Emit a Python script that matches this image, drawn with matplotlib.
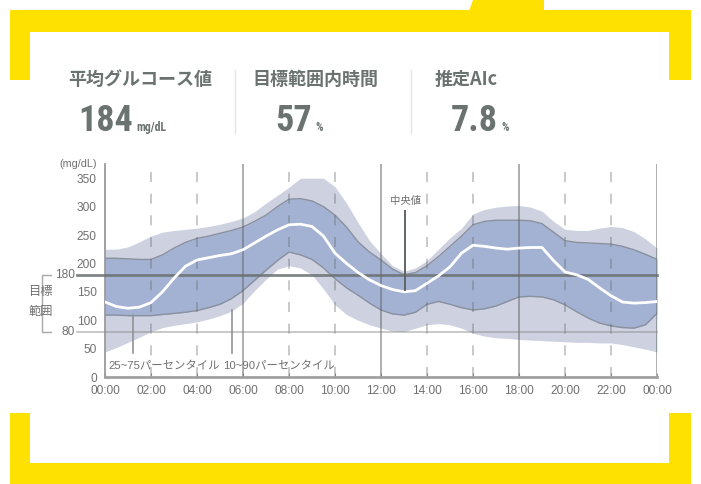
import matplotlib
matplotlib.use("Agg")
import matplotlib.pyplot as plt
from matplotlib import font_manager
from matplotlib.patches import Rectangle, Polygon

plt.rcParams['font.family'] = ['Liberation Sans', 'Noto Sans CJK JP', 'DejaVu Sans']

# half-hour grid, values (mg/dL)
hours = [i * 0.5 for i in range(49)]
p90 = [225, 225, 229, 238, 248, 255, 258, 260, 262, 265, 269, 274, 280, 291, 306, 320,
       334, 350, 350, 350, 335, 306, 272, 240, 217, 196, 186, 192, 205, 225, 245, 262,
       287, 295, 299, 301, 302, 299, 292, 274, 260, 258, 258, 262, 265, 263, 256, 243, 227]
p75 = [209, 209, 208, 207, 207, 215, 227, 237, 244, 248, 253, 258, 264, 274, 285, 300,
       313, 314, 310, 300, 285, 264, 238, 220, 206, 190, 180, 184, 196, 212, 230, 248,
       268, 274, 276, 276, 276, 275, 270, 255, 240, 237, 236, 235, 234, 230, 224, 216, 207]
median = [132, 124, 121, 123, 131, 150, 174, 195, 206, 210, 214, 217, 224, 236, 248, 259,
          268, 269, 265, 248, 218, 200, 184, 171, 161, 154, 150, 152, 165, 178, 194, 218,
          232, 230, 227, 225, 227, 228, 228, 205, 185, 180, 172, 157, 143, 132, 130, 131, 133]
p25 = [109, 109, 108, 108, 108, 110, 112, 114, 117, 122, 128, 138, 152, 170, 188, 205,
       220, 215, 207, 192, 173, 157, 144, 130, 118, 111, 109, 114, 128, 133, 128, 122,
       118, 120, 125, 133, 141, 142, 141, 136, 127, 115, 104, 95, 90, 87, 86, 92, 112]
p10 = [44, 52, 61, 70, 80, 87, 91, 94, 97, 102, 108, 116, 130, 152, 172, 190,
       196, 192, 180, 155, 127, 110, 100, 92, 86, 81, 80, 86, 92, 94, 92, 86,
       77, 72, 69, 68, 66, 65, 64, 63, 62, 61, 61, 60, 60, 57, 53, 49, 44]

xticks = list(range(0, 25, 2))
xlabels = ["00:00", "02:00", "04:00", "06:00", "08:00", "10:00", "12:00",
           "14:00", "16:00", "18:00", "20:00", "22:00", "00:00"]
yticks = [0, 50, 100, 150, 200, 250, 300, 350]
target_low, target_high = 80, 180

stats_titles = ["平均グルコース値", "目標範囲内時間", "推定AIc"]
stats_values = ["184", "57", "7.8"]
stats_units = ["mg/dL", "%", "%"]

yellow = "#ffe100"
grey_txt = "#707070"
head_col = "#6b7370"

# pick a narrow face for the big numbers if one is installed
names = {f.name for f in font_manager.fontManager.ttflist}
num_font = None
for cand in ["Roboto Condensed", "Liberation Sans Narrow", "Open Sans Condensed",
             "DejaVu Sans Condensed", "Noto Sans Condensed"]:
    if cand in names:
        num_font = dict(family=cand, weight="bold")
        break
if num_font is None:
    cond = [f for f in font_manager.fontManager.ttflist
            if str(f.stretch) in ("condensed", "semi-condensed", "extra-condensed", "ultra-condensed")
            or (isinstance(f.stretch, int) and f.stretch < 500)]
    if cond:
        num_font = dict(family=cond[0].name, stretch=cond[0].stretch, weight="bold")
    else:
        num_font = dict(family="Liberation Sans", weight="bold")
narrow = num_font["family"] != "Liberation Sans"
num_size = 26 if narrow else 20

fig = plt.figure(figsize=(7.01, 4.84), dpi=100)

# background layer in pixel coordinates for frame and header
bg = fig.add_axes([0, 0, 1, 1], zorder=0)
bg.set_xlim(0, 701)
bg.set_ylim(484, 0)
bg.axis("off")
for (x0, y0, w, h) in [(10, 10, 681, 22), (10, 10, 20, 70), (669, 10, 22, 70),
                       (10, 463, 681, 21), (10, 413, 20, 71), (669, 413, 22, 71)]:
    bg.add_patch(Rectangle((x0, y0), w, h, color=yellow, lw=0))
bg.add_patch(Polygon([(469, 11), (473, 0), (544, 0), (544, 11)], color=yellow, lw=0))

for xs in [235, 411]:
    bg.plot([xs, xs], [70, 133], color="#e4e4e4", lw=1)

title_x = [68, 252, 435]
value_x = [78, 275, 451]
for tx, vx, t, v, u in zip(title_x, value_x, stats_titles, stats_values, stats_units):
    bg.text(tx, 79, t, fontsize=13, fontweight="bold", color=head_col,
            family=["Noto Sans CJK JP", "DejaVu Sans"], va="center", ha="left")
    vt = bg.text(vx, 131, v, fontsize=num_size, color=head_col, va="baseline", ha="left",
                 **num_font)
    fig.canvas.draw()
    bb = vt.get_window_extent()
    bg.text(bb.x1 + 4, 131, u, fontsize=8.5, color=head_col, va="baseline", ha="left",
            **num_font)

# chart
ax = fig.add_axes([105 / 701, 107 / 484, 552 / 701, 213 / 484], zorder=1)
ax.patch.set_alpha(0)
ax.set_xlim(0, 24)
ax.set_ylim(0, 375)

ax.fill_between(hours, p10, p90, color="#cdd1e0", lw=0, zorder=1)
ax.fill_between(hours, p25, p75, color="#a3b2d3", lw=0, zorder=1.5)
ax.plot(hours, p75, color="#8a909e", lw=1.0, zorder=1.6)
ax.plot(hours, p25, color="#8a909e", lw=1.0, zorder=1.6)

for h in range(2, 25, 2):
    if h % 6 == 0:
        ax.axvline(h, color="#5f6464", alpha=0.55, lw=1.3, zorder=2.5)
    else:
        ax.axvline(h, color="#5f6464", alpha=0.4, lw=1.2, ls=(0, (6, 7)), zorder=2.5)

ax.plot([-1.2, 24], [target_high, target_high], color="#6a7070", alpha=0.85, lw=2,
        zorder=2.6, clip_on=False)
ax.plot([-1.2, 24], [target_low, target_low], color="#8c8c8c", alpha=0.6, lw=1.1,
        zorder=2.6, clip_on=False)

ax.plot(hours, median, color="white", lw=2, zorder=3)

# pointers and labels
ax.plot([1.2, 1.2], [109, 42], color="#8f9396", lw=1.2, zorder=2.7)
ax.plot([5.5, 5.5], [118, 42], color="#8f9396", lw=1.2, zorder=2.7)
ax.plot([13.05, 13.05], [153, 293], color="#5f6464", lw=1.4, zorder=3.1)
ax.text(0.15, 21, "25~75パーセンタイル", fontsize=8.2, color=grey_txt, va="center", ha="left")
ax.text(5.15, 21, "10~90パーセンタイル", fontsize=8.2, color=grey_txt, va="center", ha="left")
ax.text(13.05, 310, "中央値", fontsize=7.5, color=grey_txt, va="center", ha="center")

# target bracket
ax.text(-1.3, target_high, "180", fontsize=8.6, color=grey_txt, va="center", ha="right",
        clip_on=False)
ax.text(-1.3, target_low, "80", fontsize=8.6, color=grey_txt, va="center", ha="right",
        clip_on=False)
ax.plot([-2.35, -2.72, -2.72, -2.35], [target_high, target_high, target_low, target_low],
        color="#a8a8a8", lw=1, clip_on=False)
ax.text(-2.8, 150, "目標", fontsize=8.8, color=grey_txt, va="center", ha="center",
        family=["Noto Sans CJK JP"], clip_on=False)
ax.text(-2.8, 116, "範囲", fontsize=8.8, color=grey_txt, va="center", ha="center",
        family=["Noto Sans CJK JP"], clip_on=False)
ax.text(-0.35, 375, "(mg/dL)", fontsize=7.8, color=grey_txt, va="center", ha="right",
        clip_on=False)

ax.set_xticks(xticks)
ax.set_xticklabels(xlabels)
ax.set_yticks(yticks)
ax.tick_params(axis="x", direction="in", length=3, color="#9a9a9a", labelsize=8.6,
               labelcolor=grey_txt, pad=6)
ax.tick_params(axis="y", length=0, labelsize=8.6, labelcolor=grey_txt, pad=6)
for s in ["top", "right"]:
    ax.spines[s].set_visible(False)
ax.spines["left"].set_color("#9a9a9a")
ax.spines["left"].set_linewidth(1.3)
ax.spines["bottom"].set_color("#a0a0a0")
ax.spines["bottom"].set_linewidth(2)

fig.savefig("out.png", dpi=100)
